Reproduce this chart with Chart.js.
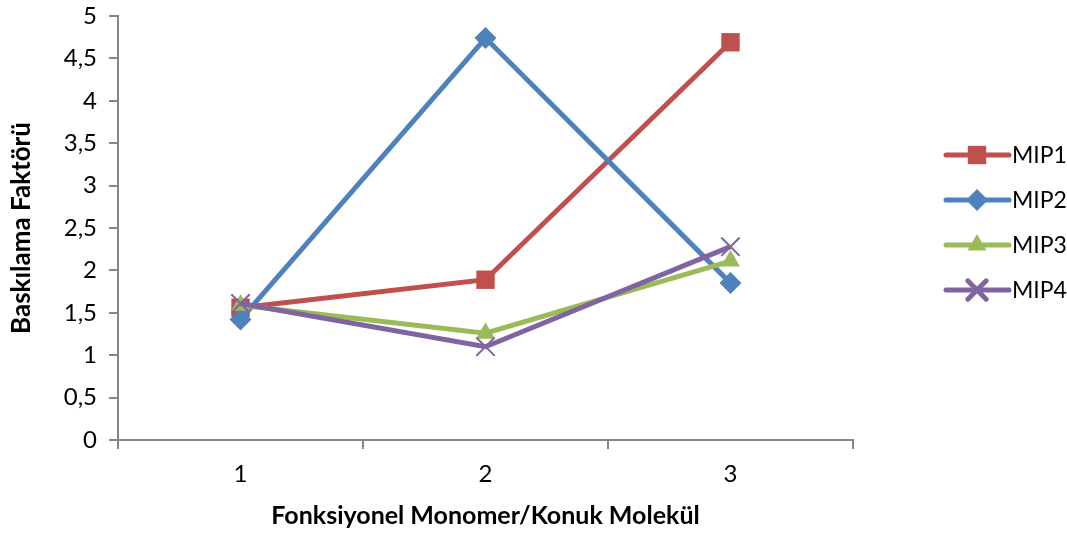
<!DOCTYPE html>
<html>
<head>
<meta charset="utf-8">
<script src="https://cdn.jsdelivr.net/npm/chart.js@4"></script>
<style>
  html, body { margin: 0; padding: 0; background: #fff; }
  #wrap { width: 1067px; height: 533px; }
</style>
</head>
<body>
<div id="wrap"><canvas id="chart" width="1067" height="533"></canvas></div>
<script>
// Data
const categories = ['1', '2', '3'];
const mip1 = [1.56, 1.89, 4.69];
const mip2 = [1.42, 4.74, 1.85];
const mip3 = [1.59, 1.26, 2.11];
const mip4 = [1.61, 1.10, 2.28];
const seriesNames = ['MIP1', 'MIP2', 'MIP3', 'MIP4'];

const FONT = 'Lato, "Open Sans", sans-serif';
const AXIS_GRAY = '#868686';

const styles = [
  { color: '#C0504D', point: 'rect', radius: 13 },
  { color: '#4F81BD', point: 'rectRot', radius: 11 },
  { color: '#9BBB59', point: 'triangle', radius: 11 },
  { color: '#8064A2', point: 'crossRot', radius: 13 }
];

function makeDataset(label, data, i) {
  const s = styles[i];
  return {
    label: label,
    data: data,
    borderColor: s.color,
    backgroundColor: s.color,
    borderWidth: 5,
    tension: 0,
    pointStyle: s.point,
    pointRadius: s.radius,
    pointHoverRadius: s.radius,
    pointBackgroundColor: s.color,
    pointBorderColor: s.color,
    pointBorderWidth: s.point === 'crossRot' ? 2 : 0,
    order: 4 - i
  };
}

// y tick labels, placed with a fixed gap to the left of the tick marks
const yLabels = {
  id: 'yLabels',
  afterDraw(chart) {
    const ctx = chart.ctx;
    const y = chart.scales.y;
    ctx.save();
    ctx.fillStyle = '#000';
    ctx.font = '24px ' + FONT;
    ctx.textAlign = 'right';
    ctx.textBaseline = 'middle';
    y.ticks.forEach(t => {
      ctx.fillText(String(t.value).replace('.', ','), y.right - 21, y.getPixelForValue(t.value));
    });
    ctx.restore();
  }
};

// Legend on the right: line sample with marker, then the name
const sideLegend = {
  id: 'sideLegend',
  afterDraw(chart) {
    const ctx = chart.ctx;
    ctx.save();
    chart.data.datasets.forEach((ds, i) => {
      const s = styles[i];
      const y = 155 + i * 45;
      ctx.strokeStyle = s.color;
      ctx.lineWidth = 5;
      ctx.lineCap = 'round';
      ctx.beginPath();
      ctx.moveTo(946, y);
      ctx.lineTo(1009, y);
      ctx.stroke();
      ctx.fillStyle = s.color;
      ctx.strokeStyle = s.color;
      Chart.helpers.drawPoint(ctx, {
        pointStyle: s.point,
        radius: s.radius,
        borderWidth: s.point === 'crossRot' ? 2 : 0,
        rotation: 0
      }, 977, y);
      ctx.fillStyle = '#000';
      ctx.font = '23px ' + FONT;
      ctx.textAlign = 'left';
      ctx.textBaseline = 'middle';
      ctx.fillText(ds.label, 1012, y + 1);
    });
    ctx.restore();
  }
};

new Chart(document.getElementById('chart'), {
  type: 'line',
  data: {
    labels: categories,
    datasets: [
      makeDataset(seriesNames[0], mip1, 0),
      makeDataset(seriesNames[1], mip2, 1),
      makeDataset(seriesNames[2], mip3, 2),
      makeDataset(seriesNames[3], mip4, 3)
    ]
  },
  options: {
    responsive: false,
    animation: false,
    layout: { padding: { top: 16, right: 214, left: 0, bottom: 0 } },
    plugins: {
      legend: { display: false },
      tooltip: { enabled: false }
    },
    scales: {
      x: {
        offset: true,
        grid: {
          offset: true,
          drawOnChartArea: false,
          drawTicks: true,
          tickLength: 9,
          color: AXIS_GRAY,
          lineWidth: 2
        },
        border: { color: AXIS_GRAY, width: 2 },
        ticks: { color: '#000', font: { family: FONT, size: 24 }, padding: 11, maxRotation: 0 },
        title: {
          display: true,
          text: 'Fonksiyonel Monomer/Konuk Molekül',
          color: '#000',
          font: { family: FONT, size: 25, weight: 'bold' },
          padding: { top: 0, bottom: 2 }
        },
        afterFit(scale) { scale.height = 93; }
      },
      y: {
        min: 0,
        max: 5,
        grid: {
          drawOnChartArea: false,
          drawTicks: true,
          tickLength: 9,
          color: AXIS_GRAY,
          lineWidth: 2
        },
        border: { color: AXIS_GRAY, width: 2 },
        ticks: {
          stepSize: 0.5,
          color: 'rgba(0,0,0,0)',
          font: { family: FONT, size: 24 }
        },
        title: {
          display: true,
          text: 'Baskılama Faktörü',
          color: '#000',
          font: { family: FONT, size: 26, weight: 'bold' },
          padding: { top: 6, bottom: 0 }
        },
        afterFit(scale) {
          scale.width = 118;
          scale.paddingTop = 0;
          scale.paddingBottom = 0;
        }
      }
    }
  },
  plugins: [yLabels, sideLegend]
});
</script>
</body>
</html>
